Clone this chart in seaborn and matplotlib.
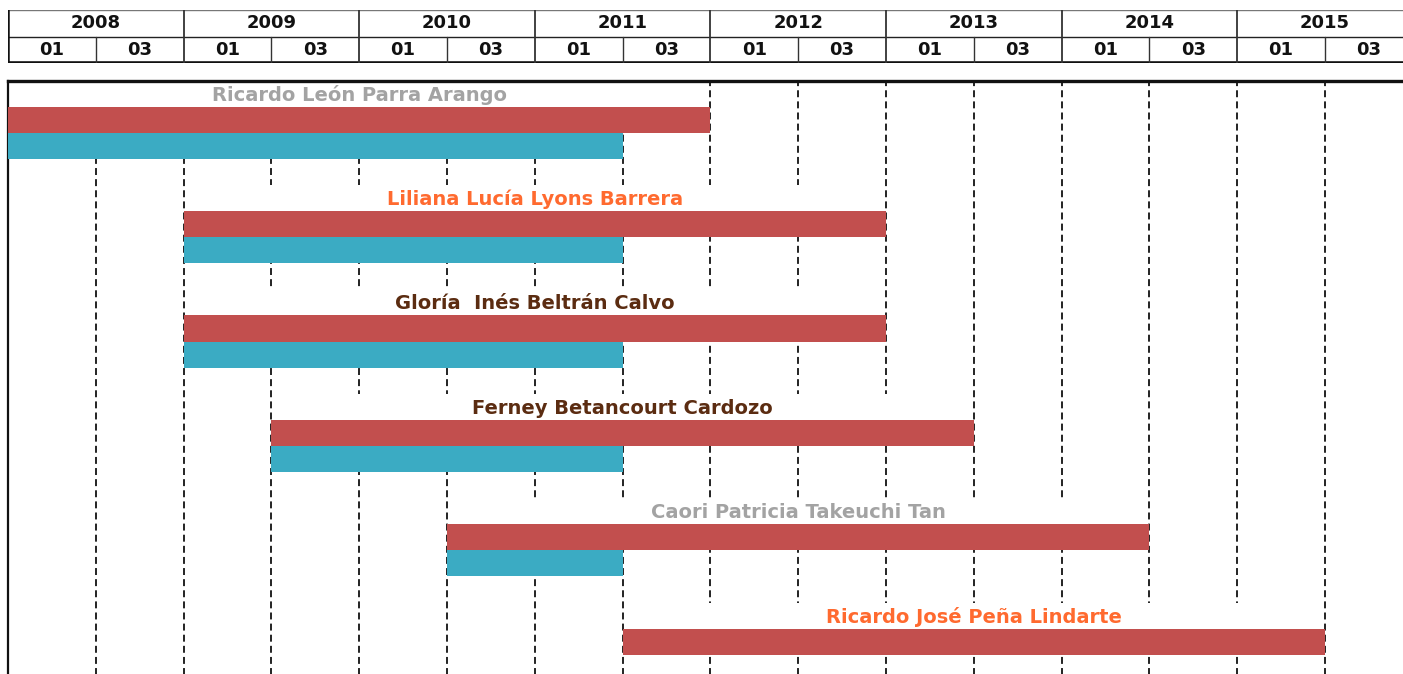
import matplotlib
matplotlib.use("Agg")
import matplotlib.pyplot as plt
from matplotlib.patches import Rectangle
import seaborn as sns
import pandas as pd

# --- data -----------------------------------------------------------------
# time axis is measured in semesters starting at 2008-01 (0 = 2008-01, 1 = 2008-03, ...)
years = [2008, 2009, 2010, 2011, 2012, 2013, 2014, 2015]
semesters = ["01", "03"]

names = [
    "Ricardo León Parra Arango",
    "Liliana Lucía Lyons Barrera",
    "Gloría  Inés Beltrán Calvo",
    "Ferney Betancourt Cardozo",
    "Caori Patricia Takeuchi Tan",
    "Ricardo José Peña Lindarte",
]
name_colors = ["#a3a3a3", "#ff6a2f", "#5b2c11", "#5b2c11", "#a3a3a3", "#ff6a2f"]

start = [0, 2, 2, 3, 5, 7]
red_end = [8, 10, 10, 11, 13, 15]
blue_end = [7, 7, 7, 7, 7, None]

RED = "#c24f4e"
BLUE = "#3babc3"

# --- long table for seaborn ----------------------------------------------
rows = []
for n, s, r, b in zip(names, start, red_end, blue_end):
    rows.append({"name": n, "series": "total", "dur": r - s})
    if b is not None:
        rows.append({"name": n, "series": "parcial", "dur": b - s})
df = pd.DataFrame(rows)

sns.set_theme(style="white")
plt.rcParams["font.family"] = ["DejaVu Sans"]
plt.rcParams["lines.scale_dashes"] = False

W, H = 1403, 674
fig = plt.figure(figsize=(W / 100, H / 100), dpi=100)

px_sem = 87.8          # pixels per semester
x0 = 8                 # left edge in pixels
n_sem = 16
row_px = 104.4
top_px = 80.5

ax_w = n_sem * px_sem / W
ax_h = len(names) * row_px / H
ax = fig.add_axes([x0 / W, 1 - top_px / H - ax_h, ax_w, ax_h])

sns.barplot(data=df, y="name", x="dur", hue="series", order=names,
            hue_order=["total", "parcial"], palette=[RED, BLUE],
            orient="h", width=0.5, dodge=True, errorbar=None, saturation=1,
            linewidth=0, legend=False, ax=ax, zorder=3)

# shift each bar so that it begins at its start semester
for bar in ax.patches:
    i = int(round(bar.get_y() + bar.get_height() / 2))
    bar.set_x(start[i])

ax.set_xlim(0, n_sem)
ax.set_ylim(len(names) - 0.5, -0.5)

# dashed semester guides
for k in range(1, n_sem):
    ax.axvline(k, color="#111111", lw=1.3, dashes=(5.0, 3.0), zorder=1)

# name bands (white) above the red bars, leaving the guides at both ends visible
inset = 0.02
for i, (n, c) in enumerate(zip(names, name_colors)):
    ax.add_patch(Rectangle((start[i] + inset, i - 0.5),
                           red_end[i] - start[i] - 2 * inset, 0.25,
                           facecolor="white", edgecolor="none", zorder=2))
    ax.text((start[i] + red_end[i]) / 2, i - 0.36, n, ha="center", va="center",
            color=c, fontsize=14, fontweight="bold", zorder=4)

ax.set_xticks([])
ax.set_yticks([])
ax.set_xlabel("")
ax.set_ylabel("")
for side in ["right", "bottom"]:
    ax.spines[side].set_visible(False)
ax.spines["top"].set_linewidth(2.4)
ax.spines["top"].set_color("#111111")
ax.spines["left"].set_linewidth(1.6)
ax.spines["left"].set_color("#111111")

# --- header table -----------------------------------------------------------
h_top, h_bot = 10, 63
hax = fig.add_axes([x0 / W, 1 - h_bot / H, ax_w, (h_bot - h_top) / H])
hax.set_xlim(0, n_sem)
hax.set_ylim(0, 2)
hax.axis("off")

hax.axhline(2, color="#777777", lw=1.0)
hax.axhline(1, color="#222222", lw=1.0)
hax.axhline(0, color="#111111", lw=2.6)

for j, y in enumerate(years):
    hax.text(2 * j + 1, 1.5, str(y), ha="center", va="center",
             fontsize=13, fontweight="bold", color="#111111")
    hax.plot([2 * j, 2 * j], [0, 2], color="#333333", lw=1.3)
    for m, s in enumerate(semesters):
        hax.text(2 * j + m + 0.5, 0.5, s, ha="center", va="center",
                 fontsize=13, fontweight="bold", color="#111111")
    hax.plot([2 * j + 1, 2 * j + 1], [0, 1], color="#333333", lw=1.0)
hax.plot([0, 0], [0, 2], color="#111111", lw=1.8)

fig.savefig("out.png", dpi=100)
